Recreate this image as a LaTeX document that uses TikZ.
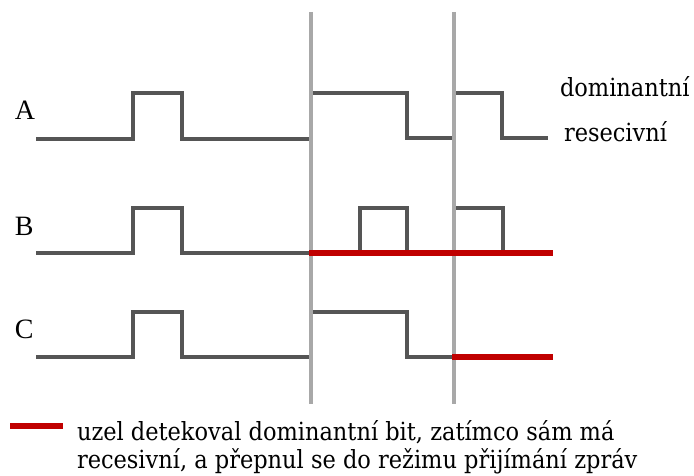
\documentclass[tikz,border=0pt]{standalone}
\usepackage{fontspec}
\setmainfont{Liberation Serif}
\newfontfamily\notefont{DejaVu Serif Condensed}
\usepackage{tikz}

\definecolor{sig}{HTML}{555555}
\definecolor{cut}{HTML}{A8A8A8}
\definecolor{err}{HTML}{C00000}

\begin{document}
\begin{tikzpicture}[x=1pt,y=-1pt]
    \tikzstyle{every node}=[inner sep=0pt,outer sep=0pt,anchor=base west];
    \tikzstyle{signal}=[draw=sig,line width=4pt];
    \tikzstyle{bittime}=[draw=cut,line width=3.5pt];
    \tikzstyle{errline}=[draw=err,line width=6pt];
    \tikzstyle{chan}=[font=\fontsize{28}{30}\selectfont];
    \tikzstyle{note}=[font=\notefont\fontsize{25}{28}\selectfont];

    \useasboundingbox (0,0) rectangle (694,476);

    % channel names
    \node[chan] (labA) at (15,120) {A};
    \node[chan] (labB) at (15,235) {B};
    \node[chan] (labC) at (15,338) {C};

    % bus levels
    \node[note] (dom) at (560,97) {dominantní};
    \node[note] (rec) at (564,142) {resecivní};

    % waveforms
    \draw[signal] (36,139) -- (133,139) -- (133,93) -- (182,93) -- (182,139)
        -- (311,139) -- (311,93) -- (407,93) -- (407,138) -- (454,138)
        -- (454,93) -- (502,93) -- (502,138) -- (548,138);
    \draw[signal] (36,253) -- (133,253) -- (133,208) -- (182,208) -- (182,253)
        -- (360,253) -- (360,208) -- (407,208) -- (407,253) -- (454,253)
        -- (454,208) -- (503,208) -- (503,253) -- (548,253);
    \draw[signal] (36,357) -- (133,357) -- (133,312) -- (182,312) -- (182,357)
        -- (311,357) -- (311,312) -- (407,312) -- (407,357) -- (454,357);

    % bit boundaries
    \foreach \x in {311,454}
        \draw[bittime] (\x,12) -- (\x,404);

    % nodes that switched to receiving
    \draw[errline] (309,253) -- (553,253);
    \draw[errline] (452,357) -- (553,357);

    % legend (node base sits on the last line)
    \coordinate (keyL) at (10,426);
    \coordinate (keyR) at (63,426);
    \draw[errline] (keyL) -- (keyR);
    \node[note,align=left] (key) at (77,468)
        {uzel detekoval dominantní bit, zatímco sám má\\
         recesivní, a přepnul se do režimu přijímání zpráv};
\end{tikzpicture}
\end{document}
